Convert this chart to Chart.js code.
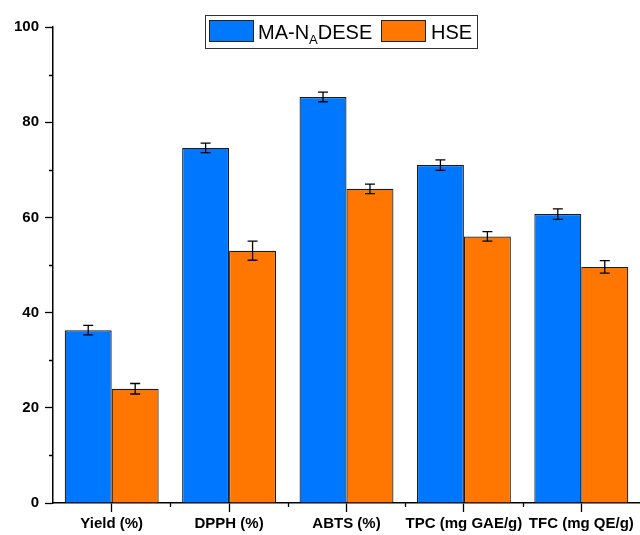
<!DOCTYPE html>
<html>
<head>
<meta charset="utf-8">
<script src="https://cdn.jsdelivr.net/npm/chart.js@4"></script>
<style>
  html, body { margin: 0; padding: 0; background: #fff; }
  #wrap { width: 640px; height: 535px; position: relative; }
</style>
</head>
<body>
<div id="wrap"><canvas id="c" width="640" height="535"></canvas></div>
<script>
// Categories and measured values (mean ± SD)
const categories = ['Yield (%)', 'DPPH (%)', 'ABTS (%)', 'TPC (mg GAE/g)', 'TFC (mg QE/g)'];
const maValues  = [36.3, 74.6, 85.3, 71.0, 60.7];
const maErrors  = [1.0, 1.0, 1.0, 1.1, 1.1];
const hseValues = [24.0, 53.0, 66.0, 56.0, 49.6];
const hseErrors = [1.1, 2.0, 1.0, 1.0, 1.3];
const yTicks = [0, 20, 40, 60, 80, 100];
const yMinorTicks = [10, 30, 50, 70, 90];

const BLUE = '#0077ff';
const ORANGE = '#ff7700';
const FONT = '"Liberation Sans", Arial, sans-serif';

// Error bars with caps on top of every bar
const errorBars = {
  id: 'errorBars',
  afterDatasetsDraw(chart) {
    const ctx = chart.ctx;
    const y = chart.scales.y;
    const errs = [maErrors, hseErrors];
    ctx.save();
    ctx.strokeStyle = '#000';
    ctx.lineWidth = 1.3;
    chart.data.datasets.forEach((ds, di) => {
      const meta = chart.getDatasetMeta(di);
      meta.data.forEach((bar, i) => {
        const v = ds.data[i], e = errs[di][i];
        const x = bar.x;
        const yt = y.getPixelForValue(v + e);
        const yb = y.getPixelForValue(v - e);
        ctx.beginPath();
        ctx.moveTo(x, yt); ctx.lineTo(x, yb);
        ctx.moveTo(x - 5, yt); ctx.lineTo(x + 5, yt);
        ctx.moveTo(x - 5, yb); ctx.lineTo(x + 5, yb);
        ctx.stroke();
      });
    });
    ctx.restore();
  }
};

// Minor ticks on both axes
const minorTicks = {
  id: 'minorTicks',
  afterDraw(chart) {
    const ctx = chart.ctx;
    const { x, y } = chart.scales;
    const area = chart.chartArea;
    ctx.save();
    ctx.strokeStyle = '#000';
    ctx.lineWidth = 1.3;
    ctx.beginPath();
    yMinorTicks.forEach(v => {
      const py = Math.round(y.getPixelForValue(v)) + 0.5;
      ctx.moveTo(area.left - 4, py); ctx.lineTo(area.left, py);
    });
    const step = (area.right - area.left) / categories.length;
    for (let i = 1; i < categories.length; i++) {
      const px = Math.round(area.left + i * step) + 0.5;
      ctx.moveTo(px, area.bottom); ctx.lineTo(px, area.bottom + 4);
    }
    ctx.stroke();
    ctx.restore();
  }
};

// Boxed legend with subscript in the first series name
const boxLegend = {
  id: 'boxLegend',
  afterDraw(chart) {
    const ctx = chart.ctx;
    ctx.save();
    const bx = 205.5, by = 15.5, bw = 272, bh = 33;
    ctx.fillStyle = '#fff';
    ctx.fillRect(bx, by, bw, bh);
    ctx.strokeStyle = '#333';
    ctx.lineWidth = 1;
    ctx.strokeRect(bx, by, bw, bh);

    const sy = 20, sh = 21, sw = 44;
    ctx.lineWidth = 1;
    ctx.strokeStyle = '#222';
    ctx.fillStyle = BLUE;
    ctx.fillRect(209.5, sy + 0.5, sw, sh);
    ctx.strokeRect(209.5, sy + 0.5, sw, sh);
    ctx.fillStyle = ORANGE;
    ctx.fillRect(381.5, sy + 0.5, sw, sh);
    ctx.strokeRect(381.5, sy + 0.5, sw, sh);

    ctx.fillStyle = '#000';
    ctx.textBaseline = 'alphabetic';
    ctx.textAlign = 'left';
    const base = 39;
    let tx = 258;
    ctx.font = '20px ' + FONT;
    ctx.fillText('MA-N', tx, base);
    tx += ctx.measureText('MA-N').width;
    ctx.font = '13px ' + FONT;
    ctx.fillText('A', tx, base + 5);
    tx += ctx.measureText('A').width;
    ctx.font = '20px ' + FONT;
    ctx.fillText('DESE', tx, base);
    ctx.fillText('HSE', 431, base);
    ctx.restore();
  }
};

new Chart(document.getElementById('c'), {
  type: 'bar',
  data: {
    labels: categories,
    datasets: [
      { label: 'MA-NADESE', data: maValues, backgroundColor: BLUE, borderColor: '#1a1a1a', borderWidth: 1.2,
        categoryPercentage: 0.8, barPercentage: 1.0 },
      { label: 'HSE', data: hseValues, backgroundColor: ORANGE, borderColor: '#1a1a1a', borderWidth: 1.2,
        categoryPercentage: 0.8, barPercentage: 1.0 }
    ]
  },
  options: {
    responsive: false,
    animation: false,
    devicePixelRatio: 1,
    layout: { padding: { top: 27, right: 0, left: 0, bottom: 0 } },
    plugins: { legend: { display: false }, tooltip: { enabled: false } },
    scales: {
      x: {
        offset: true,
        grid: { display: true, offset: false, drawOnChartArea: false, drawTicks: true,
                tickLength: 9, tickColor: '#000', tickWidth: 1.3 },
        border: { display: true, color: '#000', width: 1.5 },
        ticks: { color: '#000', font: { family: FONT, size: 15, weight: 'bold' }, padding: 3,
                 maxRotation: 0, autoSkip: false },
        afterFit(s) { s.height = 32; }
      },
      y: {
        min: 0, max: 100,
        afterBuildTicks(s) { s.ticks = yTicks.map(v => ({ value: v })); },
        grid: { display: true, drawOnChartArea: false, drawTicks: true,
                tickLength: 8, tickColor: '#000', tickWidth: 1.3 },
        border: { display: true, color: '#000', width: 1.5 },
        ticks: { color: '#000', font: { family: FONT, size: 15, weight: 'bold' }, padding: 6 },
        afterFit(s) { s.width = 53; }
      }
    }
  },
  plugins: [errorBars, minorTicks, boxLegend]
});
</script>
</body>
</html>
